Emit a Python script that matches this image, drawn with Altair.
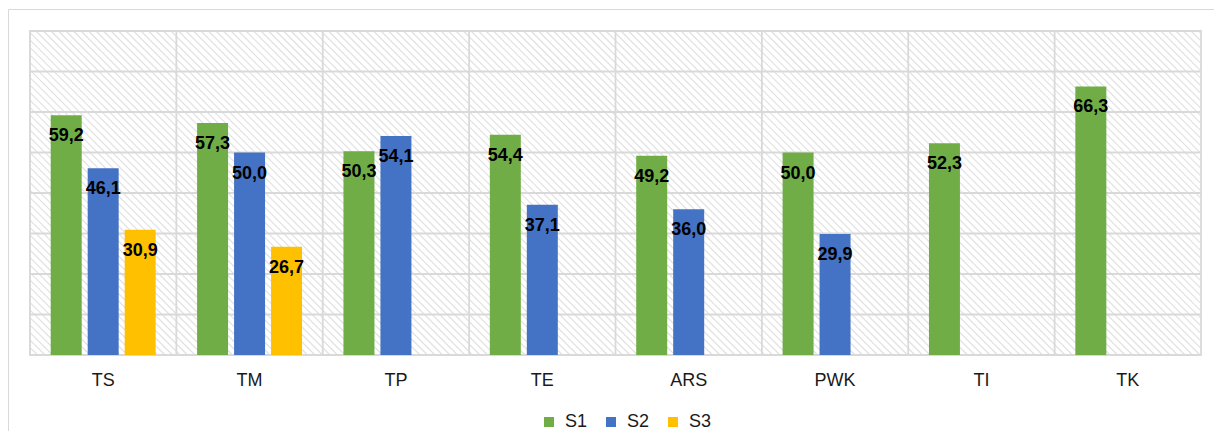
import altair as alt
import pandas as pd

categories = ["TS", "TM", "TP", "TE", "ARS", "PWK", "TI", "TK"]
series = ["S1", "S2", "S3"]
s1 = [59.2, 57.3, 50.3, 54.4, 49.2, 50.0, 52.3, 66.3]
s2 = [46.1, 50.0, 54.1, 37.1, 36.0, 29.9, None, None]
s3 = [30.9, 26.7, None, None, None, None, None, None]
colors = ["#70AD47", "#4472C4", "#FFC000"]
y_ticks = [0, 10, 20, 30, 40, 50, 60, 70, 80]

rows = []
for s, vals in zip(series, [s1, s2, s3]):
    for c, v in zip(categories, vals):
        if v is not None:
            rows.append({"cat": c, "series": s, "value": v,
                         "label": f"{v:.1f}".replace(".", ",")})
df = pd.DataFrame(rows)

W, H = 1171, 324
FONT = "Liberation Sans"
GRID = "#d9d9d9"

x_scale = alt.Scale(domain=categories, paddingInner=0, paddingOuter=0)
y_scale = alt.Scale(domain=[0, 80], nice=False, zero=True)
off_scale = alt.Scale(domain=series, paddingInner=0.162, paddingOuter=0.56)

# diagonal hatching of the plot background (decoration)
spacing = 7.5
n = int((W + H) / spacing) + 2
hatch = alt.Chart(alt.sequence(0, n, as_="i")).transform_calculate(
    x0=f"datum.i*{spacing} - {H}", x1=f"datum.i*{spacing}", y0="0", y1=f"{H}"
).mark_rule(color="#e0e0e0", strokeWidth=1.2, clip=True).encode(
    x=alt.X("x0:Q", scale=None, axis=None),
    x2="x1:Q",
    y=alt.Y("y0:Q", scale=None, axis=None),
    y2="y1:Q",
)

hgrid = alt.Chart(pd.DataFrame({"v": y_ticks})).mark_rule(
    color=GRID, strokeWidth=1.8).encode(
    y=alt.Y("v:Q", scale=y_scale, axis=None))

vgrid = alt.Chart(pd.DataFrame({"cat": categories})).mark_rule(
    color=GRID, strokeWidth=1.8).encode(
    x=alt.X("cat:N", scale=x_scale, sort=categories, axis=None, bandPosition=0))

bars = alt.Chart(df).mark_bar().encode(
    x=alt.X("cat:N", scale=x_scale, sort=categories,
            axis=alt.Axis(title=None, labelAngle=0, domain=False, ticks=False, grid=False,
                          labelFontSize=18, labelFont=FONT, labelColor="#1a1a1a",
                          labelPadding=16)),
    xOffset=alt.XOffset("series:N", scale=off_scale, sort=series),
    y=alt.Y("value:Q", scale=y_scale, axis=None),
    color=alt.Color("series:N", scale=alt.Scale(domain=series, range=colors),
                    legend=alt.Legend(title=None, orient="none", legendX=510, legendY=382,
                                      direction="horizontal", symbolType="square",
                                      symbolSize=100, symbolStrokeWidth=0,
                                      labelFontSize=18, labelFont=FONT,
                                      labelColor="#1a1a1a", columnPadding=14,
                                      labelOffset=7)),
)

labels = alt.Chart(df).mark_text(
    dy=21, baseline="middle", align="center", fontSize=18, fontWeight="bold",
    font=FONT, color="black").encode(
    x=alt.X("cat:N", scale=x_scale, sort=categories, axis=None),
    xOffset=alt.XOffset("series:N", scale=off_scale, sort=series),
    y=alt.Y("value:Q", scale=y_scale, axis=None),
    text="label:N",
)

border = alt.Chart(pd.DataFrame({"a": [0]})).mark_rect(
    fill="transparent", stroke=GRID, strokeWidth=1, clip=False).encode(
    x=alt.value(-21.5), x2=alt.value(W + 40), y=alt.value(-21.5), y2=alt.value(H + 120))

chart = alt.layer(border, hatch, hgrid, vgrid, bars, labels).resolve_scale(
    x="independent", y="independent"
).properties(
    width=W, height=H,
    autosize=alt.AutoSizeParams(type="none"),
    padding={"left": 22, "top": 23, "right": 13, "bottom": 76},
).configure_view(stroke=GRID, strokeWidth=1.8)

chart.save("out.html", embed_options={"renderer": "svg", "actions": False})
